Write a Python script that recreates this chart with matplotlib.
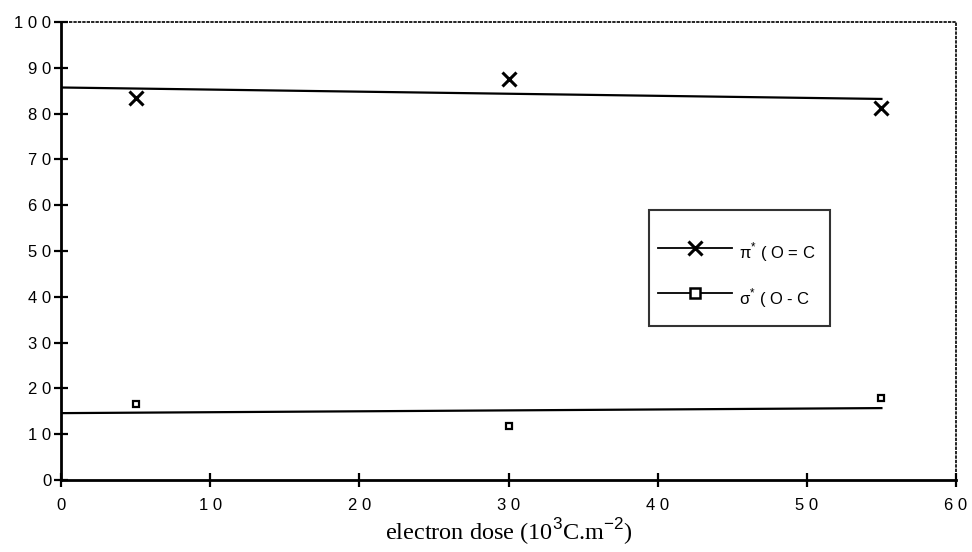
import numpy as np
import matplotlib.pyplot as plt
from matplotlib.ticker import FuncFormatter

dose = [5, 30, 55]
pi_star = [83.4, 87.6, 81.2]
sigma_star = [16.6, 11.8, 17.9]

trend_x = [0, 55]
pi_trend = [85.7, 83.2]
sigma_trend = [14.6, 15.7]

plt.rcParams['font.family'] = ['Liberation Sans', 'DejaVu Sans']
plt.rcParams['mathtext.fontset'] = 'custom'
plt.rcParams['mathtext.rm'] = 'Liberation Sans'

fig = plt.figure(figsize=(9.72, 5.52), dpi=100)
ax = fig.add_axes([61/972, 1-480/552, (956-61)/972, (480-22)/552])

# points and fitted lines
ax.plot(dose, pi_star, 'x', color='black', ms=10, mew=2.2)
ax.plot(trend_x, pi_trend, '-', color='black', lw=1.6)
ax.plot(dose, sigma_star, 's', color='black', mfc='white', ms=5, mew=1.6)
ax.plot(trend_x, sigma_trend, '-', color='black', lw=1.6)

# legend handles (line with marker in the middle)
h1, = ax.plot([], [], '-x', color='black', lw=1.3, ms=10, mew=2.2)
h2, = ax.plot([], [], '-s', color='black', mfc='white', lw=1.3, ms=7, mew=1.8)
lab1 = 'π$^{*}$ ( O = C  '
lab2 = 'σ$^{*}$ ( O - C  '
# empty title only pushes the rows down a bit inside the box
leg = ax.legend([h1, h2], [lab1, lab2], title=' ', title_fontsize=6,
                loc='upper left', bbox_to_anchor=(649/972, 1-210/552),
                bbox_transform=fig.transFigure, borderaxespad=0,
                fancybox=False, fontsize=12, handlelength=4.4,
                handleheight=2.9, labelspacing=0.6, borderpad=0.55,
                handletextpad=0.45, markerscale=1)
leg.get_frame().set_edgecolor('black')
leg.get_frame().set_linewidth(1.5)

ax.set_xlim(0, 60)
ax.set_ylim(0, 100)
ax.set_xticks(np.arange(0, 61, 10))
ax.set_yticks(np.arange(0, 101, 10))
spaced = FuncFormatter(lambda v, p: ' '.join(str(int(v))))
ax.xaxis.set_major_formatter(spaced)
ax.yaxis.set_major_formatter(spaced)
ax.tick_params(direction='inout', length=10, width=1.6, labelsize=12)
ax.tick_params(axis='x', pad=8)
ax.tick_params(axis='y', pad=2)

for s in ['left', 'bottom']:
    ax.spines[s].set_linewidth(2)
for s in ['top', 'right']:
    ax.spines[s].set_linestyle(':')
    ax.spines[s].set_linewidth(1.2)

ax.set_xlabel(r'electron dose (10$^{3}$C.m$^{-2}$)', fontsize=17.5,
              family='Liberation Serif', labelpad=2)

plt.savefig('out.png', dpi=100)
